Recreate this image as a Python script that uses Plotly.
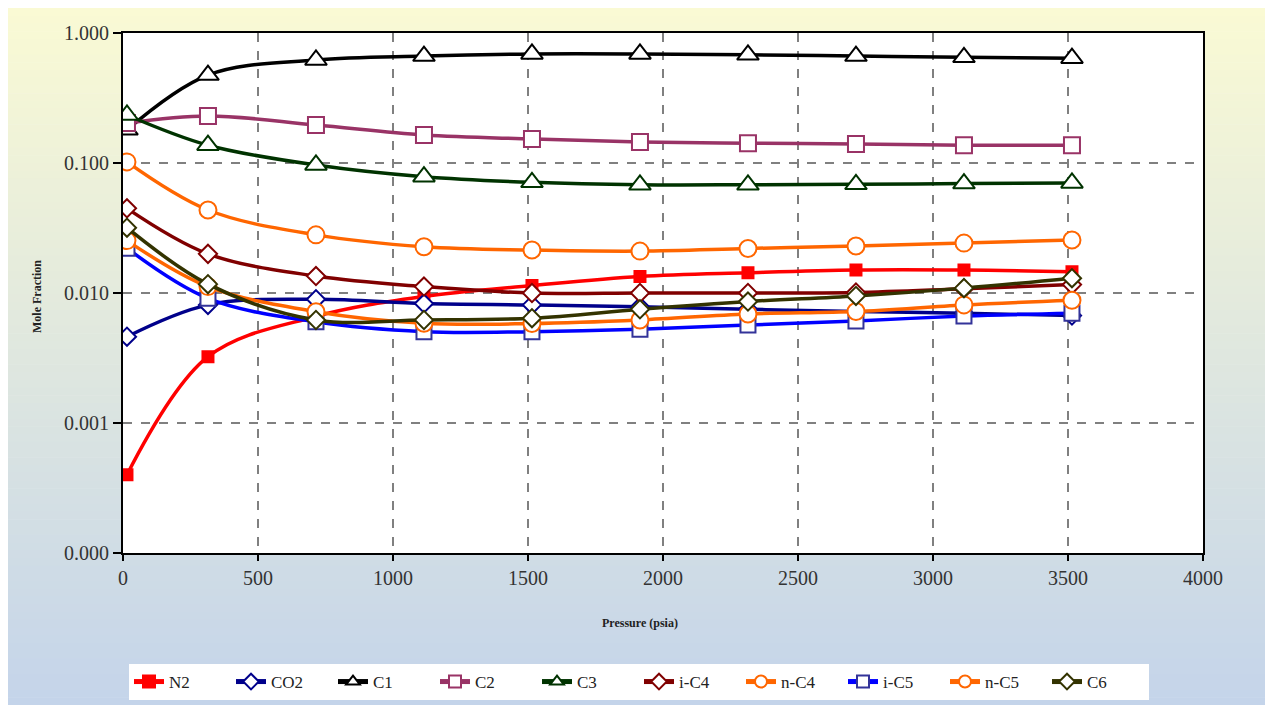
import plotly.graph_objects as go

pressure = [14.7, 314.7, 714.7, 1114.7, 1514.7, 1914.7, 2314.7, 2714.7, 3114.7, 3514.7]

N2   = [0.00040, 0.00324, 0.0066, 0.0094, 0.0114, 0.0134, 0.0143, 0.0150, 0.0150, 0.0146]
CO2  = [0.00461, 0.0081, 0.00895, 0.0083, 0.0081, 0.00785, 0.0075, 0.0072, 0.0070, 0.0067]
C1   = [0.180, 0.475, 0.620, 0.665, 0.690, 0.690, 0.680, 0.665, 0.650, 0.640]
C2   = [0.203, 0.230, 0.196, 0.164, 0.153, 0.145, 0.142, 0.140, 0.137, 0.137]
C3   = [0.234, 0.137, 0.0966, 0.0785, 0.0710, 0.0680, 0.0680, 0.0685, 0.0695, 0.0703]
iC4  = [0.0448, 0.0200, 0.0135, 0.0112, 0.0100, 0.0100, 0.0100, 0.0101, 0.0108, 0.0116]
nC4  = [0.102, 0.0435, 0.0280, 0.0227, 0.0214, 0.0210, 0.0220, 0.0230, 0.0242, 0.0256]
iC5  = [0.0221, 0.0091, 0.0060, 0.00504, 0.00504, 0.00526, 0.00567, 0.0061, 0.00665, 0.0070]
nC5  = [0.0253, 0.0112, 0.00718, 0.00585, 0.00582, 0.0062, 0.0069, 0.0072, 0.0081, 0.0088]
C6   = [0.0318, 0.0117, 0.0062, 0.0062, 0.0064, 0.0075, 0.0086, 0.0095, 0.0109, 0.0130]

names = ["N2", "CO2", "C1", "C2", "C3", "i-C4", "n-C4", "i-C5", "n-C5", "C6"]
series = [N2, CO2, C1, C2, C3, iC4, nC4, iC5, nC5, C6]

y_tickvals = [0.0001, 0.001, 0.01, 0.1, 1.0]
y_ticktext = ["0.000", "0.001", "0.010", "0.100", "1.000"]
x_tickvals = [0, 500, 1000, 1500, 2000, 2500, 3000, 3500, 4000]

styles = {
    "N2":   dict(color="#ff0000", symbol="square", size=11, fill="#ff0000", mline="#ff0000"),
    "CO2":  dict(color="#00008b", symbol="diamond", size=14, fill="white", mline="#00008b"),
    "C1":   dict(color="#000000", symbol="triangle-up", size=19, fill="white", mline="#000000"),
    "C2":   dict(color="#993366", symbol="square", size=16, fill="white", mline="#993366"),
    "C3":   dict(color="#003300", symbol="triangle-up", size=19, fill="white", mline="#003300"),
    "i-C4": dict(color="#800000", symbol="diamond", size=14, fill="white", mline="#800000"),
    "n-C4": dict(color="#ff6600", symbol="circle", size=17, fill="white", mline="#ff6600"),
    "i-C5": dict(color="#0000ff", symbol="square", size=15, fill="white", mline="#333399"),
    "n-C5": dict(color="#ff6600", symbol="circle", size=17, fill="white", mline="#ff6600"),
    "C6":   dict(color="#333300", symbol="diamond", size=14, fill="white", mline="#333300"),
}

fig = go.Figure()
for name, vals in zip(names, series):
    s = styles[name]
    fig.add_trace(go.Scatter(
        x=pressure, y=vals, name=name, mode="lines+markers",
        line=dict(color=s["color"], width=3.5, shape="spline", smoothing=1.0),
        marker=dict(symbol=s["symbol"], size=s["size"], color=s["fill"],
                    line=dict(color=s["mline"], width=2)),
    ))

# page has an 8px body margin; figure sized to fit the window
OFF = 8
W, H = 1273 - 2 * OFF, 713 - 2 * OFF
# plot area in page pixels
L, R, T, B = 123, 1203, 33, 553
pw, ph = R - L, B - T

def px(x):
    return (x - L) / pw

def py(y):
    return (B - y) / ph

# gradient background (yellow to light blue), page coordinates
shapes = []
top_c = (250, 250, 212)
bot_c = (196, 212, 234)
n = 90
y0, y1 = OFF, OFF + H
for i in range(n):
    a = y0 + (y1 - y0) * i / n
    b = y0 + (y1 - y0) * (i + 1) / n
    t = (i + 0.5) / n
    c = tuple(int(round(top_c[k] + (bot_c[k] - top_c[k]) * t)) for k in range(3))
    shapes.append(dict(type="rect", xref="paper", yref="paper",
                       x0=px(OFF - 2), x1=px(OFF + W + 2), y0=py(b + 0.6), y1=py(a),
                       fillcolor="rgb(%d,%d,%d)" % c, line=dict(width=0), layer="below"))
# white plot area
shapes.append(dict(type="rect", xref="paper", yref="paper", x0=0, x1=1, y0=0, y1=1,
                   fillcolor="white", line=dict(width=0), layer="below"))

serif = "Liberation Serif, Times New Roman, serif"

fig.update_layout(
    width=W, height=H,
    margin=dict(l=L - OFF, r=(OFF + W) - R, t=T - OFF, b=(OFF + H) - B, autoexpand=False),
    paper_bgcolor="white",
    plot_bgcolor="white",
    shapes=shapes,
    font=dict(family=serif, color="#222222"),
    showlegend=True,
    legend=dict(orientation="h", x=px(639), xanchor="center", y=py(664), yanchor="top",
                bgcolor="white", font=dict(family=serif, size=17, color="#222222"),
                entrywidth=57, entrywidthmode="pixels", itemsizing="constant",
                borderwidth=0),
    xaxis=dict(range=[0, 4000], tickvals=x_tickvals, showgrid=True,
               gridcolor="#808080", griddash="dash", gridwidth=1.5,
               showline=True, linecolor="black", linewidth=2, mirror=True,
               ticks="outside", ticklen=6, tickcolor="black", tickwidth=1.5,
               tickfont=dict(family=serif, size=20, color="#333333"), zeroline=False),
    yaxis=dict(type="log", range=[-4, 0], tickvals=y_tickvals, ticktext=y_ticktext,
               showgrid=True, gridcolor="#808080", griddash="dash", gridwidth=1.5,
               showline=True, linecolor="black", linewidth=2, mirror=True,
               ticks="outside", ticklen=8, tickcolor="black", tickwidth=1.5,
               tickfont=dict(family=serif, size=20, color="#333333"), zeroline=False),
    annotations=[
        dict(text="<b>Pressure (psia)</b>", xref="paper", yref="paper",
             x=px(640), y=py(632), showarrow=False,
             font=dict(family=serif, size=12, color="#222222")),
        dict(text="<b>Mole Fraction</b>", xref="paper", yref="paper",
             x=px(28), y=py(297), showarrow=False, textangle=-90,
             font=dict(family=serif, size=12, color="#222222")),
    ],
)

fig.write_html("out.html")
